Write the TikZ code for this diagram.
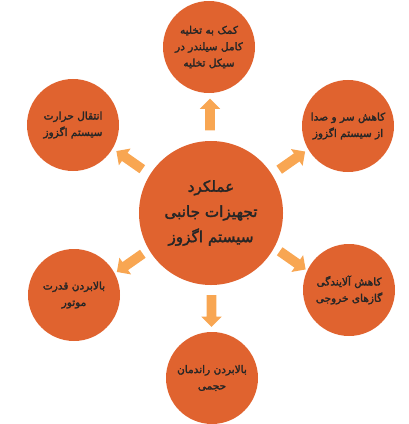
\documentclass[tikz,border=0pt]{standalone}
\usepackage{fontspec}
\newfontfamily\arabicfont[Script=Arabic,BoldFont={DejaVu Sans},
  BoldFeatures={FakeBold=2.2}]{DejaVu Sans}
\TeXXeTstate=1
\usetikzlibrary{calc}
\usetikzlibrary{shapes.arrows}
\definecolor{discfill}{RGB}{224,99,47}
\definecolor{arrowfill}{RGB}{248,166,82}
\definecolor{labeltext}{RGB}{38,38,38}
\newcommand{\pxunit}{0.03cm}
\newcommand{\hubsize}{4.32cm}
\newcommand{\leafsize}{2.76cm}
\newcommand{\arrowlen}{0.95cm}
\newcommand{\rl}[1]{\beginR #1\endR}

\begin{document}
\begin{tikzpicture}[x=\pxunit,y=-\pxunit,
    disc/.style={circle,fill=discfill,draw=none,inner sep=0pt,
      text=labeltext,align=center},
    hub/.style={disc,minimum size=\hubsize,
      font=\arabicfont\bfseries\fontsize{13}{21.5}\selectfont},
    leaf/.style={disc,minimum size=\leafsize,
      font=\arabicfont\bfseries\fontsize{9}{14}\selectfont},
    blockarrow/.style={single arrow,fill=arrowfill,draw=none,
      inner sep=0.14cm,single arrow head extend=0.16cm,
      minimum height=\arrowlen}]
    \useasboundingbox (0,0) rectangle (408,424);
    % center part
    \node[hub] (hub) at (211,213)
      {\rl{عملکرد}\\\rl{تجهیزات جانبی}\\\rl{سیستم اگزوز}};
    % outer parts
    \node[leaf] (top) at (209,47)
      {\rl{کمک به تخلیه}\\\rl{کامل سیلندر در}\\\rl{سیکل تخلیه}};
    \node[leaf] (upleft) at (73,125)
      {\rl{انتقال حرارت}\\\rl{سیستم اگزوز}};
    \node[leaf] (upright) at (348,126)
      {\rl{کاهش سر و صدا}\\\rl{از سیستم اگزوز}};
    \node[leaf] (lowleft) at (74,295)
      {\rl{بالابردن قدرت}\\\rl{موتور}};
    \node[leaf] (lowright) at (349,290)
      {\rl{کاهش آلایندگی}\\\rl{گازهای خروجی}};
    \node[leaf] (bottom) at (212,378)
      {\rl{بالابردن راندمان}\\\rl{حجمی}};
    % arrows
    \node[blockarrow,rotate=90] (totop) at ($(hub.north)!0.5!(top.south)$) {};
    \node[blockarrow,rotate=145] (toupleft) at ($(hub.145)!0.5!(upleft.-35)$) {};
    \node[blockarrow,rotate=35] (toupright) at ($(hub.35)!0.5!(upright.215)$) {};
    \node[blockarrow,rotate=215] (tolowleft) at ($(hub.215)!0.5!(lowleft.35)$) {};
    \node[blockarrow,rotate=-35] (tolowright) at ($(hub.-35)!0.5!(lowright.145)$) {};
    \node[blockarrow,rotate=-90] (tobottom) at ($(hub.south)!0.5!(bottom.north)$) {};
  \end{tikzpicture}
\end{document}
